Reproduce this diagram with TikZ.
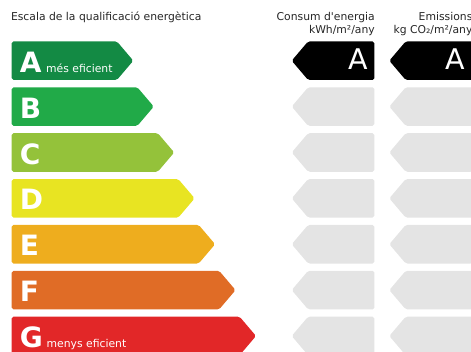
\documentclass[tikz,border=0pt]{standalone}
\usepackage{fontspec}
\setmainfont{DejaVu Sans}[Ligatures=TeXOff]
\definecolor{cA}{RGB}{19,138,68}
\definecolor{cB}{RGB}{33,170,72}
\definecolor{cC}{RGB}{148,194,58}
\definecolor{cD}{RGB}{232,228,34}
\definecolor{cE}{RGB}{238,173,30}
\definecolor{cF}{RGB}{224,108,38}
\definecolor{cG}{RGB}{226,39,40}
\definecolor{cGrey}{RGB}{228,228,228}
\tikzset{
  txt/.style={inner sep=0pt, outer sep=0pt, font=\fontsize{10.8}{13}\selectfont, text=black!85},
  bigletter/.style={inner sep=0pt, anchor=base west, text=white, font=\fontsize{28}{30}\selectfont\bfseries},
  smalltxt/.style={inner sep=0pt, anchor=base west, text=white, font=\fontsize{10.8}{13}\selectfont},
  ratingletter/.style={inner sep=0pt, anchor=base, text=white, font=\fontsize{28.5}{30}\selectfont},
}
\begin{document}
\begin{tikzpicture}[x=1pt,y=-1pt]
\useasboundingbox (0,0) rectangle (471,352);
\clip (0,0) rectangle (471,352);
\def\h{38.6}
\def\tw{16.4}
% title and headers
\node[txt, anchor=base west] (title) at (11,21) {Escala de la qualificació energètica};
\node[txt, anchor=base east] (h1a) at (374.8,21) {Consum d'energia};
\node[txt, anchor=base east] (h1b) at (374.8,34) {kWh/m²/any};
\node[txt, anchor=base east] (h2a) at (472.4,21) {Emissions};
\node[txt, anchor=base east] (h2b) at (472.4,34) {kg CO₂/m²/any};
% scale bars
\foreach \L/\c [count=\i from 0] in {A/cA,B/cB,C/cC,D/cD,E/cE,F/cF,G/cG}{
  \pgfmathsetmacro{\t}{41.4+45.88*\i}
  \pgfmathsetmacro{\tip}{133.3+20.45*\i}
  \pgfmathsetmacro{\r}{\tip-\tw}
  \pgfmathsetmacro{\m}{\t+\h/2}
  \pgfmathsetmacro{\b}{\t+\h}
  \pgfmathsetmacro{\bl}{\t+30.9}
  \fill[\c, rounded corners=1.8] (11.7,\t) -- (\r,\t) -- (\tip,\m) -- (\r,\b) -- (11.7,\b) -- cycle;
  \node[bigletter] (L\L) at (19.6,\bl) {\L};
  % rating columns (grey placeholders)
  \ifnum\i>0
    \fill[cGrey, rounded corners=1.8] (291.7,\m) -- (308.1,\t) -- (374.4,\t) -- (374.4,\b) -- (308.1,\b) -- cycle;
    \fill[cGrey, rounded corners=1.8] (389.3,\m) -- (405.7,\t) -- (472.5,\t) -- (472.5,\b) -- (405.7,\b) -- cycle;
  \fi
}
\node[smalltxt] (topt) at (46,72.3) {més eficient};
\node[smalltxt] (bott) at (46.5,347.6) {menys eficient};
% current rating arrows
\fill[black, rounded corners=1.8] (291.7,60.7) -- (308.1,41.4) -- (374.4,41.4) -- (374.4,80) -- (308.1,80) -- cycle;
\fill[black, rounded corners=1.8] (389.3,60.7) -- (405.7,41.4) -- (472.5,41.4) -- (472.5,80) -- (405.7,80) -- cycle;
\node[ratingletter] (r1) at (357.8,69.8) {A};
\node[ratingletter] (r2) at (455.4,69.8) {A};
\end{tikzpicture}
\end{document}
